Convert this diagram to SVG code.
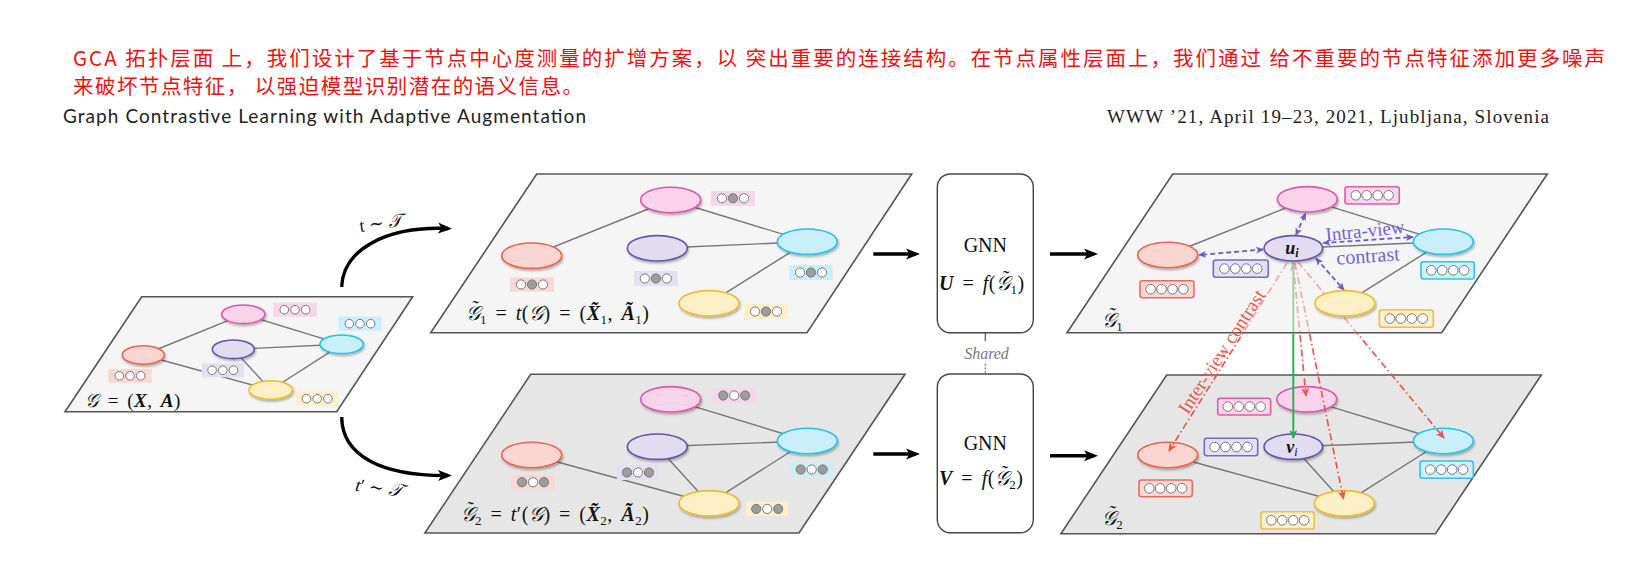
<svg xmlns="http://www.w3.org/2000/svg" xmlns:xlink="http://www.w3.org/1999/xlink" width="1634" height="562" viewBox="0 0 1634 562">
<style>
.cn{font-family:"Noto Sans CJK SC",sans-serif;font-size:20.5px;fill:#f01010}
.m{font-family:"Liberation Serif","DejaVu Serif",serif;fill:#111}
.ml{word-spacing:3px;letter-spacing:0.5px}
.bi{font-weight:bold;font-style:italic}
.it{font-style:italic}
.pan1{fill:#f5f5f5;stroke:#555;stroke-width:1.6}
.pan2{fill:#e6e6e6;stroke:#555;stroke-width:1.6}
.edge{stroke:#777;stroke-width:1.4;fill:none}
.nd{stroke-width:1.6;filter:url(#sh)}
.pk{fill:#f8d3ea;stroke:#e055a9}
.rd{fill:#fad6d2;stroke:#ea6352}
.pu{fill:#e2dcf0;stroke:#6652ad}
.cy{fill:#c9effb;stroke:#22c2ea}
.ye{fill:#fdefc6;stroke:#f0bc2a}
.lpk{fill:#f6d6ea}.lrd{fill:#f8d7d4}.lpu{fill:#e4e0f2}.lcy{fill:#cbeffa}.lye{fill:#fcefcb}
.rpk{fill:#f8d6ec;stroke:#e05aaa}.rrd{fill:#fad8d5;stroke:#ea6b5d}.rpu{fill:#e5e0f4;stroke:#7a68c8}.rcy{fill:#cdf0fb;stroke:#2cc4ea}.rye{fill:#fdf0cc;stroke:#f0be35}
.rb{stroke-width:1.6}
.cw{fill:#fff;stroke:#777;stroke-width:1}
.cg{fill:#9c9c9c;stroke:#777;stroke-width:1}
.blk{stroke:#000;stroke-width:3.4;fill:none;marker-end:url(#ak)}
.intra{stroke:#6b5acd;stroke-width:1.8;stroke-dasharray:5,3;fill:none;marker-start:url(#ap);marker-end:url(#ap)}
.inter{stroke:#e8574c;stroke-width:1.7;stroke-dasharray:7,3,1.5,3;fill:none;marker-end:url(#ar)}
.gnn{fill:#fff;stroke:#444;stroke-width:1.4}
</style>
<defs>
<filter id="sh" x="-30%" y="-30%" width="160%" height="180%"><feDropShadow dx="1" dy="1.8" stdDeviation="1.2" flood-color="#000" flood-opacity="0.3"/></filter>
<marker id="ak" markerUnits="userSpaceOnUse" viewBox="0 0 14 12" markerWidth="14" markerHeight="12" refX="10" refY="6" orient="auto"><path d="M0,0.5 L14,6 L0,11.5 L3.5,6 z" fill="#000"/></marker>
<marker id="ap" markerUnits="userSpaceOnUse" viewBox="0 0 8 7" markerWidth="8" markerHeight="7" refX="7" refY="3.5" orient="auto-start-reverse"><path d="M0,0 L8,3.5 L0,7 L2,3.5 z" fill="#6b5acd"/></marker>
<marker id="ar" markerUnits="userSpaceOnUse" viewBox="0 0 9 8" markerWidth="9" markerHeight="8" refX="8" refY="4" orient="auto-start-reverse"><path d="M0,0 L9,4 L0,8 L2.5,4 z" fill="#e8574c"/></marker>
<marker id="ag" markerUnits="userSpaceOnUse" viewBox="0 0 9 8" markerWidth="9" markerHeight="8" refX="8" refY="4" orient="auto"><path d="M0,0 L9,4 L0,8 L2.5,4 z" fill="#22b04f"/></marker>
<mask id="fade" maskUnits="userSpaceOnUse" x="0" y="0" width="1634" height="562"><rect x="0" y="0" width="1634" height="562" fill="#fff"/><polygon points="1172.7,174 1547.3,174 1441.7,332.7 1067,332.7" fill="#777"/></mask>
<g id="d3www"><circle class="cw" cx="-10.7" cy="0" r="4.3"/><circle class="cw" cx="0" cy="0" r="4.3"/><circle class="cw" cx="10.7" cy="0" r="4.3"/></g>
<g id="d3wgw"><circle class="cw" cx="-11" cy="0" r="4.6"/><circle class="cg" cx="0" cy="0" r="4.6"/><circle class="cw" cx="11" cy="0" r="4.6"/></g>
<g id="d3gwg"><circle class="cg" cx="-11" cy="0" r="4.6"/><circle class="cw" cx="0" cy="0" r="4.6"/><circle class="cg" cx="11" cy="0" r="4.6"/></g>
<g id="d4"><circle class="cw" cx="-16.4" cy="0" r="4.8"/><circle class="cw" cx="-5.5" cy="0" r="4.8"/><circle class="cw" cx="5.5" cy="0" r="4.8"/><circle class="cw" cx="16.4" cy="0" r="4.8"/></g>
</defs>
<rect x="0" y="0" width="1634" height="562" fill="#fff"/>
<g id="header">
<text class="cn" x="73" y="66" textLength="1532" lengthAdjust="spacing">GCA 拓扑层面 上，我们设计了基于节点中心度测量的扩增方案，以 突出重要的连接结构。在节点属性层面上，我们通过 给不重要的节点特征添加更多噪声</text>
<text class="cn" x="73" y="94" textLength="510" lengthAdjust="spacing">来破坏节点特征， 以强迫模型识别潜在的语义信息。</text>
<text x="63" y="123" font-family="Lato, sans-serif" font-size="19" fill="#222" textLength="523" lengthAdjust="spacing">Graph Contrastive Learning with Adaptive Augmentation</text>
<text x="1107" y="123" font-family="'Liberation Serif', serif" font-size="19" fill="#222" textLength="442" lengthAdjust="spacing">WWW ’21, April 19–23, 2021, Ljubljana, Slovenia</text>
</g>
<g id="panels">
<polygon id="panel-G" class="pan1" points="141.7,296.7 412.7,296.7 336.7,411.7 65,411.7"/>
<polygon id="panel-G1" class="pan1" points="536.7,174 911.7,174 807,332.7 430.7,332.7"/>
<polygon id="panel-G2" class="pan2" points="530.7,374.3 905,374.3 799,533 424.9,533"/>
<polygon id="panel-R2" class="pan2" points="1166.7,375 1541.3,375 1435.5,533.7 1060.9,533.7"/>
<polygon id="panel-R1" class="pan1" points="1172.7,174 1547.3,174 1441.7,332.7 1067,332.7"/>
</g>
<g id="connectors">
<g id="edges-G" class="edge">
<line x1="143.3" y1="355" x2="243.3" y2="314.3"/><line x1="143.3" y1="355" x2="270.7" y2="390"/><line x1="233.3" y1="349.3" x2="341.7" y2="344.3"/><line x1="233.3" y1="349.3" x2="270.7" y2="390"/><line x1="243.3" y1="314.3" x2="341.7" y2="344.3"/><line x1="341.7" y1="344.3" x2="270.7" y2="390"/>
</g>
<g id="edges-G1" class="edge">
<line x1="531.7" y1="255.7" x2="670.7" y2="200"/><line x1="670.7" y1="200" x2="807.3" y2="241.7"/><line x1="657.3" y1="248.3" x2="807.3" y2="241.7"/><line x1="807.3" y1="241.7" x2="709" y2="303.3"/>
</g>
<g id="edges-G2" class="edge">
<line x1="670.7" y1="399.3" x2="807.3" y2="441"/><line x1="657.3" y1="446.7" x2="807.3" y2="441"/><line x1="531.7" y1="455" x2="709" y2="503.3"/><line x1="657.3" y1="446.7" x2="709" y2="503.3"/><line x1="807.3" y1="441" x2="709" y2="503.3"/>
</g>
<g id="edges-R1" class="edge">
<line x1="1167.7" y1="255" x2="1307.3" y2="199.3"/><line x1="1307.3" y1="199.3" x2="1443.3" y2="241.7"/><line x1="1293.3" y1="248.3" x2="1443.3" y2="241.7"/><line x1="1443.3" y1="241.7" x2="1345" y2="303.3"/>
</g>
<g id="edges-R2" class="edge">
<line x1="1306.7" y1="399.3" x2="1443.3" y2="441"/><line x1="1293.3" y1="446.7" x2="1443.3" y2="441"/><line x1="1167.7" y1="455" x2="1344.3" y2="503.3"/><line x1="1293.3" y1="446.7" x2="1344.3" y2="503.3"/><line x1="1443.3" y1="441" x2="1344.3" y2="503.3"/>
</g>
<g id="aug-arrows">
<path class="blk" d="M341.7,287 C343,250 385,226 448,228.5"/>
<path class="blk" d="M341.7,417 C342,455 380,476 448,475.5"/>
</g>
<g id="flow-arrows">
<line class="blk" x1="873.3" y1="254" x2="916" y2="254"/>
<line class="blk" x1="873.3" y1="454" x2="916" y2="454"/>
<line class="blk" x1="1050" y1="254" x2="1094" y2="254"/>
<line class="blk" x1="1050" y1="455.7" x2="1094" y2="455.7"/>
</g>
<g id="shared-link" stroke="#555" stroke-width="1.2">
<line x1="985.3" y1="332.7" x2="985.3" y2="341"/>
<line x1="985.3" y1="364" x2="985.3" y2="374" stroke-dasharray="1.5,2"/>
</g>
<g id="intra-view">
<line class="intra" x1="1296" y1="235" x2="1305.5" y2="213.5"/>
<line class="intra" x1="1263" y1="249.5" x2="1199" y2="255"/>
<line class="intra" x1="1323.5" y1="243" x2="1413" y2="237"/>
<line class="intra" x1="1316" y1="258.5" x2="1344" y2="290"/>
</g>
</g>
<g id="graph-G">
<rect class="lpk" x="273.3" y="302.7" width="43.4" height="14"/><use xlink:href="#d3www" x="295" y="309.7"/>
<rect class="lcy" x="338.3" y="316.7" width="43.4" height="14"/><use xlink:href="#d3www" x="360" y="323.7"/>
<rect class="lpu" x="201.7" y="363.3" width="42.3" height="14"/><use xlink:href="#d3www" x="222.8" y="370.3"/>
<rect class="lrd" x="108.3" y="369" width="43.4" height="13.7"/><use xlink:href="#d3www" x="130" y="375.8"/>
<rect class="lye" x="296" y="391.7" width="42.3" height="14"/><use xlink:href="#d3www" x="317.2" y="398.7"/>
<ellipse class="nd pk" cx="243.3" cy="314.3" rx="21.7" ry="9.3"/>
<ellipse class="nd cy" cx="341.7" cy="344.3" rx="21.7" ry="9.3"/>
<ellipse class="nd pu" cx="233.3" cy="349.3" rx="21" ry="9.3"/>
<ellipse class="nd rd" cx="143.3" cy="355" rx="21" ry="9.3"/>
<ellipse class="nd ye" cx="270.7" cy="390" rx="21.7" ry="9.3"/>
<text class="m ml" x="85" y="407" font-size="19"><tspan class="it">𝒢</tspan> = (<tspan class="bi">X</tspan>, <tspan class="bi">A</tspan>)</text>
</g>
<g id="graph-G1">
<rect class="lpk" x="711" y="191" width="44" height="14.7"/><use xlink:href="#d3wgw" x="733" y="198.3"/>
<rect class="lrd" x="510" y="277.3" width="44" height="14.4"/><use xlink:href="#d3wgw" x="532" y="284.5"/>
<rect class="lpu" x="634" y="271" width="43.7" height="15"/><use xlink:href="#d3wgw" x="655.8" y="278.5"/>
<rect class="lcy" x="789.3" y="265" width="43.4" height="15"/><use xlink:href="#d3wgw" x="811" y="272.5"/>
<rect class="lye" x="744.3" y="304" width="43.4" height="15"/><use xlink:href="#d3wgw" x="766" y="311.5"/>
<ellipse class="nd pk" cx="670.7" cy="200" rx="30" ry="12.7"/>
<ellipse class="nd rd" cx="531.7" cy="255.7" rx="30" ry="12.7"/>
<ellipse class="nd pu" cx="657.3" cy="248.3" rx="30" ry="12.7"/>
<ellipse class="nd cy" cx="807.3" cy="241.7" rx="30" ry="12.7"/>
<ellipse class="nd ye" cx="709" cy="303.3" rx="30" ry="12.7"/>
<text class="m ml" x="460" y="320" font-size="20"><tspan class="it" dx="5.5 -12.7" dy="-5 5">˜𝒢</tspan><tspan dy="4" font-size="13">1</tspan><tspan dy="-4"> = </tspan><tspan class="it">t</tspan>(<tspan class="it">𝒢</tspan>) = (<tspan class="bi">X̃</tspan><tspan font-size="13" dy="4">1</tspan><tspan dy="-4">, </tspan><tspan class="bi">Ã</tspan><tspan font-size="13" dy="4">1</tspan><tspan dy="-4">)</tspan></text>
</g>
<g id="graph-G2">
<rect class="lpk" x="712.3" y="388.3" width="43.7" height="14.4"/><use xlink:href="#d3gwg" x="734.2" y="395.5"/>
<rect class="lpu" x="616.7" y="465" width="42.6" height="15"/><use xlink:href="#d3gwg" x="638" y="472.5"/>
<rect class="lrd" x="511" y="475" width="44" height="14.3"/><use xlink:href="#d3gwg" x="533" y="482.2"/>
<rect class="lcy" x="790" y="462.3" width="43.3" height="14.4"/><use xlink:href="#d3gwg" x="811.7" y="469.5"/>
<rect class="lye" x="746" y="501.7" width="42.3" height="14.3"/><use xlink:href="#d3gwg" x="767.2" y="508.9"/>
<ellipse class="nd pk" cx="670.7" cy="399.3" rx="30" ry="12.7"/>
<ellipse class="nd pu" cx="657.3" cy="446.7" rx="30" ry="12.7"/>
<ellipse class="nd rd" cx="531.7" cy="455" rx="30" ry="12.7"/>
<ellipse class="nd cy" cx="807.3" cy="441" rx="30" ry="12.7"/>
<ellipse class="nd ye" cx="709" cy="503.3" rx="30" ry="12.7"/>
<text class="m ml" x="455" y="521" font-size="20"><tspan class="it" dx="5.5 -12.7" dy="-5 5">˜𝒢</tspan><tspan dy="4" font-size="13">2</tspan><tspan dy="-4"> = </tspan><tspan class="it">t</tspan>′(<tspan class="it">𝒢</tspan>) = (<tspan class="bi">X̃</tspan><tspan font-size="13" dy="4">2</tspan><tspan dy="-4">, </tspan><tspan class="bi">Ã</tspan><tspan font-size="13" dy="4">2</tspan><tspan dy="-4">)</tspan></text>
</g>
<g id="aug-labels">
<text class="m" x="381" y="229" font-size="18" text-anchor="middle" transform="rotate(-8 381 224)">t ∼ <tspan class="it">𝒯</tspan></text>
<text class="m" x="379" y="494" font-size="18" text-anchor="middle" transform="rotate(8 379 488)"><tspan class="it">t</tspan>′ ∼ <tspan class="it">𝒯</tspan></text>
</g>
<g id="gnn-1">
<rect class="gnn" x="937.3" y="174" width="96" height="158.7" rx="13"/>
<text class="m" x="985.3" y="251.5" font-size="20" text-anchor="middle">GNN</text>
<text class="m ml" x="939" y="290" font-size="20"><tspan class="bi">U</tspan> = <tspan class="it">f</tspan>(<tspan class="it" dx="5.5 -12.7" dy="-5 5">˜𝒢</tspan><tspan dy="4" font-size="13">1</tspan><tspan dy="-4">)</tspan></text>
</g>
<g id="shared-label"><text class="m it" x="986.5" y="359" font-size="16" text-anchor="middle" style="fill:#777">Shared</text></g>
<g id="gnn-2">
<rect class="gnn" x="937.3" y="374" width="96" height="158.7" rx="13"/>
<text class="m" x="985.3" y="450" font-size="20" text-anchor="middle">GNN</text>
<text class="m ml" x="939" y="485" font-size="20"><tspan class="bi">V</tspan> = <tspan class="it">f</tspan>(<tspan class="it" dx="5.5 -12.7" dy="-5 5">˜𝒢</tspan><tspan dy="4" font-size="13">2</tspan><tspan dy="-4">)</tspan></text>
</g>
<g id="graph-R2">
<rect class="rpk rb" x="1217.7" y="398.3" width="53" height="16.7" rx="2.5"/><use xlink:href="#d4" x="1244.2" y="406.6"/>
<rect class="rpu rb" x="1204.3" y="438.3" width="53.4" height="17.4" rx="2.5"/><use xlink:href="#d4" x="1231" y="447"/>
<rect class="rrd rb" x="1139" y="480" width="53.3" height="16.7" rx="2.5"/><use xlink:href="#d4" x="1165.7" y="488.3"/>
<rect class="rcy rb" x="1420" y="461" width="53.3" height="17.3" rx="2.5"/><use xlink:href="#d4" x="1446.7" y="469.6"/>
<rect class="rye rb" x="1261" y="511.7" width="53.3" height="17.3" rx="2.5"/><use xlink:href="#d4" x="1287.7" y="520.3"/>
<ellipse class="nd pk" cx="1306.7" cy="399.3" rx="30" ry="12.7"/>
<ellipse class="nd pu" cx="1293.3" cy="446.7" rx="29.3" ry="12.7"/>
<ellipse class="nd rd" cx="1167.7" cy="455" rx="30" ry="12.7"/>
<ellipse class="nd cy" cx="1443.3" cy="441" rx="30" ry="12.7"/>
<ellipse class="nd ye" cx="1344.3" cy="503.3" rx="30" ry="12.7"/>
<text class="m" x="1292" y="452.5" font-size="18" text-anchor="middle"><tspan class="bi">v</tspan><tspan class="it" font-size="12" dy="3">i</tspan></text>
<text class="m" x="1096.7" y="525" font-size="20"><tspan class="it" dx="5.5 -12.7" dy="-5 5">˜𝒢</tspan><tspan dy="4" font-size="13">2</tspan></text>
</g>
<g id="inter-view" mask="url(#fade)">
<line class="inter" x1="1287" y1="263" x2="1169" y2="451"/>
<line class="inter" x1="1293" y1="263" x2="1306" y2="396" marker-start="url(#ar)"/>
<line class="inter" x1="1295" y1="263" x2="1343.5" y2="499"/>
<line class="inter" x1="1298" y1="262" x2="1444" y2="438"/>
<line x1="1293.3" y1="262" x2="1293.3" y2="438" stroke="#22b04f" stroke-width="1.9" marker-end="url(#ag)"/>
</g>
<g id="graph-R1">
<rect class="rpk rb" x="1345" y="186.7" width="54.3" height="17.3" rx="2.5"/><use xlink:href="#d4" x="1372.2" y="195.3"/>
<rect class="rrd rb" x="1140" y="280.7" width="54" height="17" rx="2.5"/><use xlink:href="#d4" x="1167" y="289.2"/>
<rect class="rpu rb" x="1213.3" y="260" width="55" height="17.3" rx="2.5"/><use xlink:href="#d4" x="1240.8" y="268.6"/>
<rect class="rcy rb" x="1421" y="261.7" width="53.3" height="17.3" rx="2.5"/><use xlink:href="#d4" x="1447.7" y="270.3"/>
<rect class="rye rb" x="1379.3" y="310" width="54" height="17.3" rx="2.5"/><use xlink:href="#d4" x="1406.3" y="318.6"/>
<ellipse class="nd pk" cx="1307.3" cy="199.3" rx="30" ry="12.7"/>
<ellipse class="nd pu" cx="1293.3" cy="248.3" rx="29.3" ry="12.7"/>
<ellipse class="nd rd" cx="1167.7" cy="255" rx="30" ry="12.7"/>
<ellipse class="nd cy" cx="1443.3" cy="241.7" rx="30" ry="12.7"/>
<ellipse class="nd ye" cx="1345" cy="303.3" rx="30" ry="12.7"/>
<text class="m" x="1292" y="254" font-size="18" text-anchor="middle"><tspan class="bi">u</tspan><tspan class="bi" font-size="12" dy="3">i</tspan></text>
<text class="m" x="1096.7" y="327" font-size="20"><tspan class="it" dx="5.5 -12.7" dy="-5 5">˜𝒢</tspan><tspan dy="4" font-size="13">1</tspan></text>
</g>
<g id="contrast-labels">
<text class="m" x="1365" y="237" font-size="19" text-anchor="middle" style="fill:#7264d4" transform="rotate(-6 1365 231)">Intra-view</text>
<text class="m" x="1368" y="262.5" font-size="20" text-anchor="middle" style="fill:#7264d4" transform="rotate(-4 1368 257)">contrast</text>
<text class="m" x="1227" y="355" font-size="19" text-anchor="middle" style="fill:#e8574c" transform="rotate(-57 1227 355)">Inter-view contrast</text>
</g>
</svg>
